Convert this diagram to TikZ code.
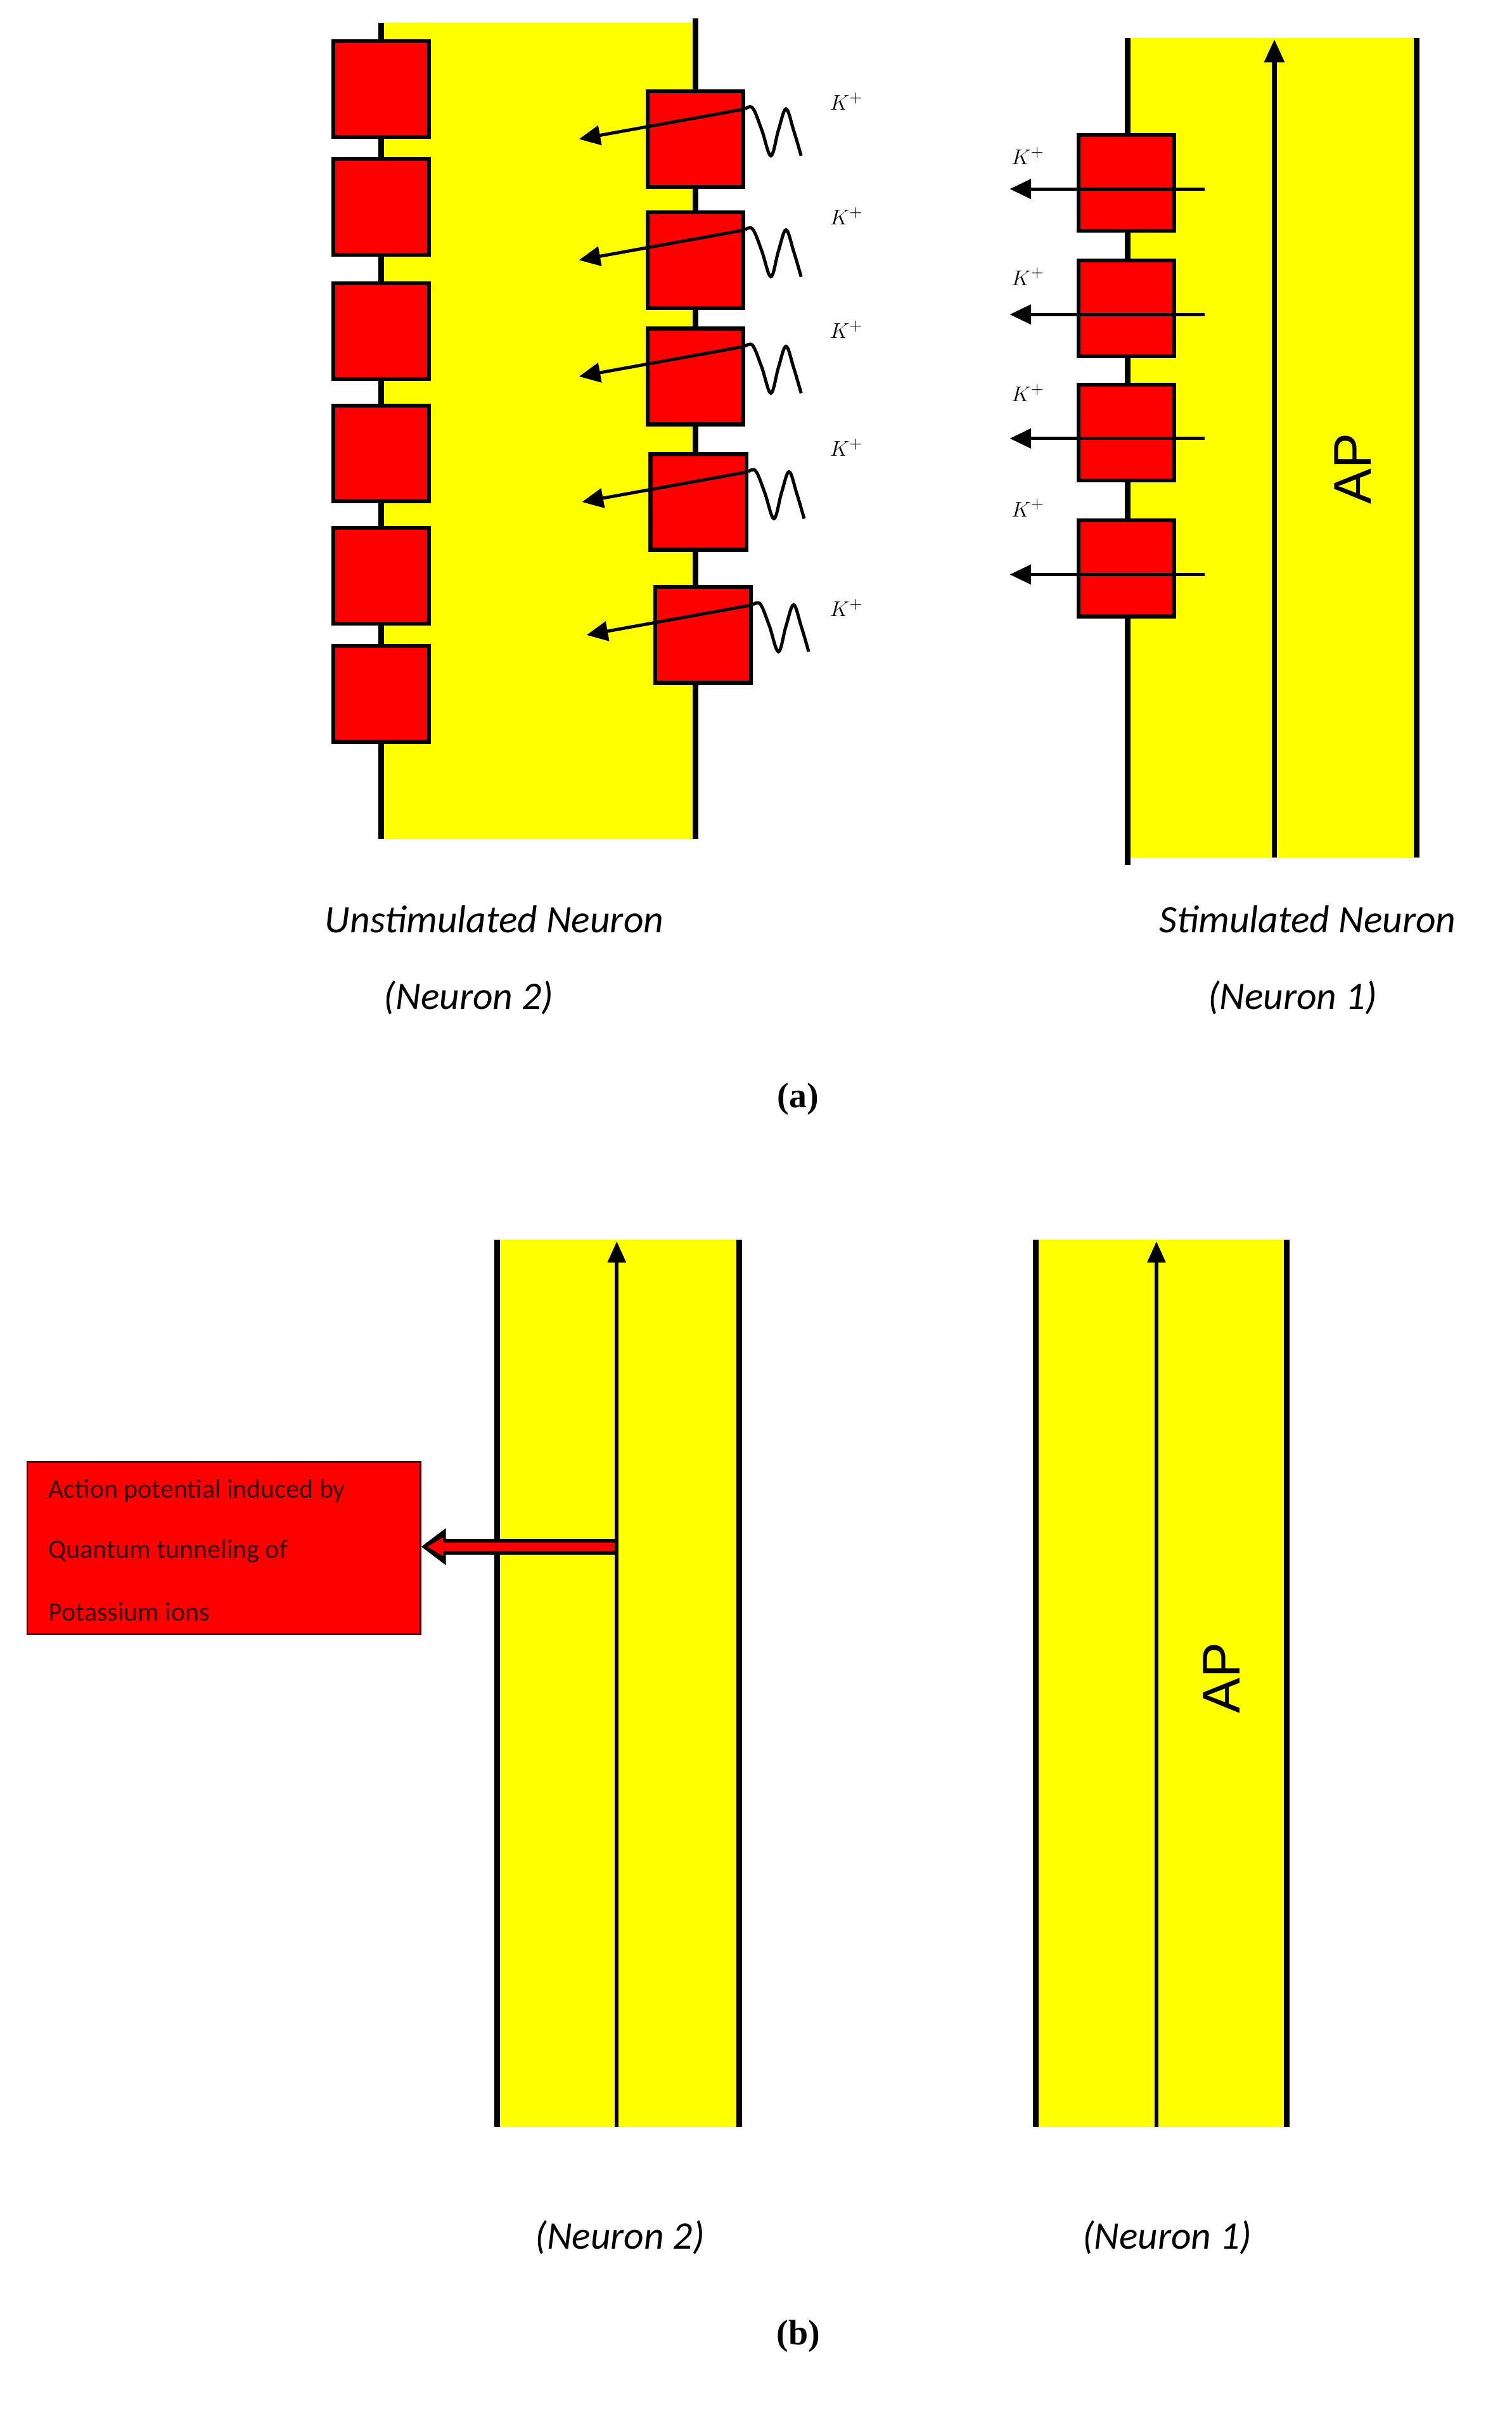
\documentclass[tikz,border=0pt]{standalone}
\usepackage{fontspec}
\setmainfont{Carlito}
\newfontfamily\lsans{Liberation Sans}
\newfontfamily\lserif{Liberation Serif}
\usetikzlibrary{arrows.meta,calc}
\definecolor{ylw}{RGB}{255,255,0}
\definecolor{rd}{RGB}{255,0,0}
\begin{document}
\begin{tikzpicture}[x=0.03cm,y=-0.03cm,
  memline/.style={line width=3.2pt},
  chan/.style={draw,fill=rd,line width=2.2pt,inner sep=0pt,minimum width=1.9cm,minimum height=1.9cm},
  ion/.style={line width=1.8pt,-{Triangle[length=12pt,width=11pt]}},
  wig/.style={line width=1.8pt},
  kp/.style={font=\fontsize{13}{15}\selectfont},
  lab/.style={font=\itshape\fontsize{22}{26}\selectfont},
  ap/.style={font=\lsans\fontsize{30}{34}\selectfont,rotate=90}]
\useasboundingbox (0,0) rectangle (1000,1598);
% ---------- panel (a) left ----------
\fill[ylw] (252,15) rectangle (460,555);
\draw[memline] (252,15) -- (252,555);
\draw[memline] (460,12) -- (460,555);
\foreach \i/\y in {1/59,2/137,3/219,4/300,5/381,6/459}
  \node[chan] (L\i) at (252,\y) {};
\foreach \i/\x/\y/\k in {1/460/92/67,2/460/172/143,3/460/249/218,4/462/332/296,5/465/420/402}{
  \node[chan] (R\i) at (\x,\y) {};
  \coordinate (Rs\i) at ([yshift=-0.39cm]R\i.north east);
  \coordinate (Re\i) at ($(R\i.west)+(-44,0)$);
  \draw[ion] (Rs\i) -- (Re\i);
  \draw[wig,shift={(Rs\i)}] plot[smooth,tension=0.6] coordinates {(0,0)(5,-0.5)(11,14)(17,31)(22,14)(27,0)(32,14)(37,31)};
  \node[kp] (K\i) at (560,\k) {$K^{+}$};
}
% ---------- panel (a) right ----------
\fill[ylw] (746,25) rectangle (937,567);
\draw[memline] (746,25) -- (746,572);
\draw[memline] (937,25) -- (937,567);
\coordinate (apb) at (843,567); \coordinate (apt) at (843,26);
\draw[line width=2.6pt,-{Triangle[length=13pt,width=11pt]}] (apb) -- (apt);
\node[ap] (AP1) at (895,310) {AP};
\foreach \i/\y/\k in {1/121/103,2/204/183,3/286/260,4/376/336}{
  \node[chan] (S\i) at (745,\y) {};
  \coordinate (Ss\i) at (797,\y+4);
  \coordinate (Se\i) at (668,\y+4);
  \draw[ion] (Ss\i) -- (Se\i);
  \node[kp] (KS\i) at (680,\k) {$K^{+}$};
}
\node[lab] (t1) at (327,608) {Unstimulated Neuron};
\node[lab] (t2) at (310,660) {(Neuron 2)};
\node[lab] (t3) at (865,608) {Stimulated Neuron};
\node[lab] (t4) at (855,660) {(Neuron 1)};
\node[font=\lserif\bfseries\fontsize{20}{24}\selectfont] (pa) at (528,727) {(a)};
% ---------- panel (b) ----------
\fill[ylw] (329,820) rectangle (489,1407);
\draw[memline] (329,820) -- (329,1407);
\draw[memline] (489,820) -- (489,1407);
\coordinate (b2b) at (408,1407); \coordinate (b2t) at (408,821);
\draw[line width=2.2pt,-{Triangle[length=12pt,width=10pt]}] (b2b) -- (b2t);
\fill[ylw] (685,820) rectangle (851,1407);
\draw[memline] (685,820) -- (685,1407);
\draw[memline] (851,820) -- (851,1407);
\coordinate (b1b) at (765,1407); \coordinate (b1t) at (765,821);
\draw[line width=2.2pt,-{Triangle[length=12pt,width=10pt]}] (b1b) -- (b1t);
\node[ap] (AP2) at (808,1110) {AP};
\node[draw=black!70!rd,fill=rd,line width=1pt,minimum width=7.8cm,minimum height=3.42cm,inner sep=0pt] (box) at (148,1024) {};
\node[anchor=west,font=\fontsize{15}{18}\selectfont,text=black!80!rd] (bt1) at (28,986) {Action potential induced by};
\node[anchor=west,font=\fontsize{15}{18}\selectfont,text=black!80!rd] (bt2) at (28,1026) {Quantum tunneling of};
\node[anchor=west,font=\fontsize{15}{18}\selectfont,text=black!80!rd] (bt3) at (28,1066) {Potassium ions};
\coordinate (ra) at (408,1023);
\draw[line width=9pt,-{Triangle[length=14pt,width=20pt]}] (ra) -- (box.east|-ra);
\draw[line width=4.5pt,rd,shorten <=1pt,-{Triangle[length=9pt,width=10pt]}] (ra) -- ([xshift=0.12cm]box.east|-ra);
\node[lab] (t5) at (410,1480) {(Neuron 2)};
\node[lab] (t6) at (772,1480) {(Neuron 1)};
\node[font=\lserif\bfseries\fontsize{20}{24}\selectfont] (pb) at (528,1545) {(b)};
\end{tikzpicture}
\end{document}
